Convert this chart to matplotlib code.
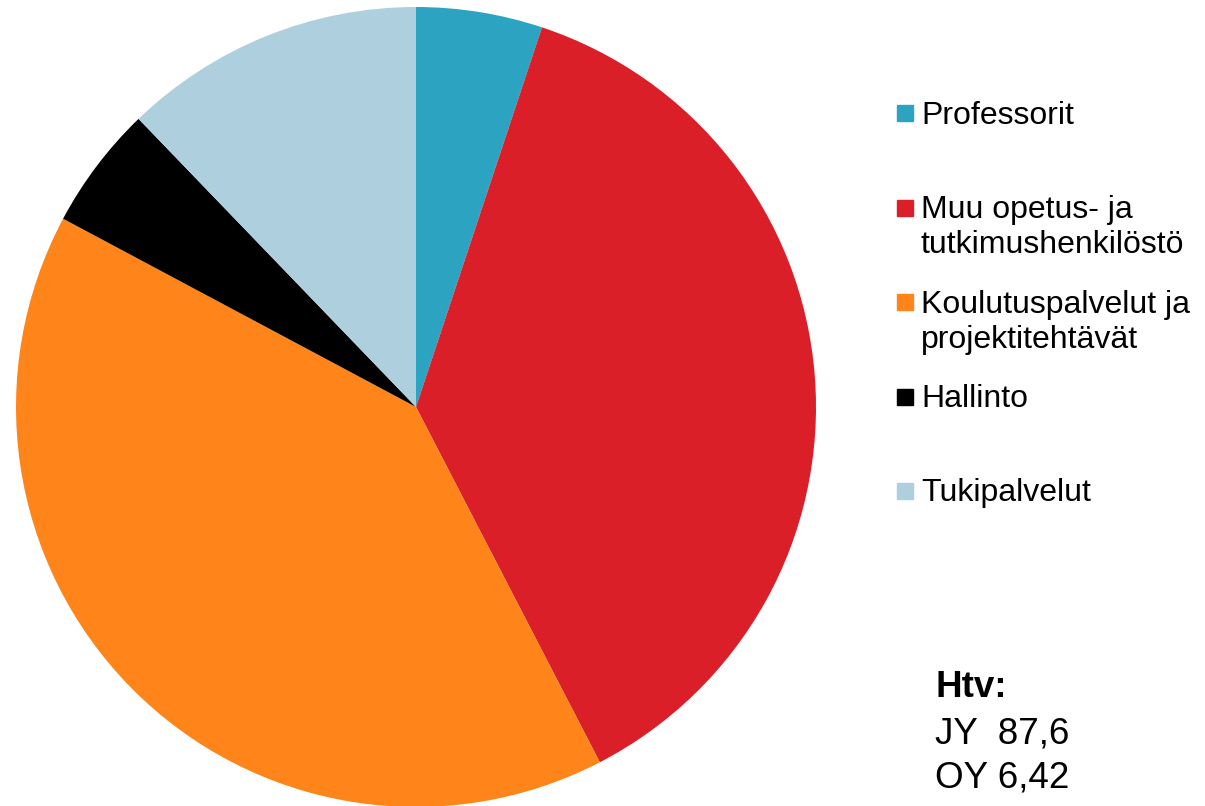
import matplotlib.pyplot as plt
from matplotlib.patches import Rectangle

# Henkilöstö tehtäväryhmittäin (osuudet %, luettu kuvasta)
categories = ["Professorit",
              "Muu opetus- ja\ntutkimushenkilöstö",
              "Koulutuspalvelut ja\nprojektitehtävät",
              "Hallinto",
              "Tukipalvelut"]
shares = [5.1, 37.3, 40.4, 5.0, 12.2]
colors = ["#2CA3C0", "#DA1F29", "#FF841A", "#000000", "#ADCFDE"]
htv_lines = ["JY  87,6", "OY 6,42"]

plt.rcParams['font.family'] = ['Liberation Sans', 'DejaVu Sans']

W, H = 1205, 806
fig = plt.figure(figsize=(W / 100, H / 100), dpi=100)

# pie axes: centre (416, 407), radius 400 px
cx, cy, r = 416, 407, 400
ax = fig.add_axes([(cx - r) / W, (H - cy - r) / H, 2 * r / W, 2 * r / H])
ax.pie(shares, colors=colors, startangle=90, counterclock=False,
       radius=1.0, wedgeprops={"linewidth": 0})
ax.set_xlim(-1, 1)
ax.set_ylim(-1, 1)
ax.set_aspect("equal")
ax.axis("off")

# legend drawn by hand (fixed slots like the original)
for i, (lab, col) in enumerate(zip(categories, colors)):
    y = 113.3 + i * 94.4
    fig.patches.append(Rectangle((897 / W, (H - y - 8) / H), 16 / W, 16 / H,
                                 transform=fig.transFigure, color=col))
    for k, part in enumerate(lab.split("\n")):
        fig.text(921 / W, (H - y - 10.5 - k * 35) / H, part, fontsize=23,
                 va="baseline", ha="left")

# Htv box
fig.text(935 / W, (H - 697) / H, "Htv:", fontsize=26.5, fontweight="bold",
         va="baseline", ha="left")
for j, line in enumerate(htv_lines):
    fig.text(935 / W, (H - 743 - j * 45) / H, line, fontsize=26.5,
             va="baseline", ha="left")

fig.savefig("out.png", dpi=100)
